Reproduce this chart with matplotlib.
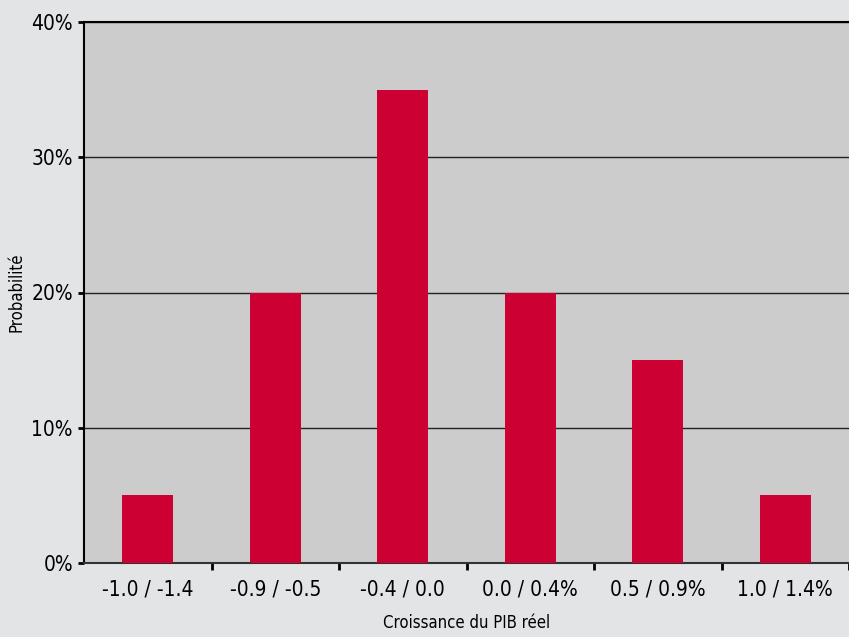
import numpy as np
import matplotlib
matplotlib.use("Agg")
import matplotlib.pyplot as plt

# Data.
categories = ["-1.0 / -1.4", "-0.9 / -0.5", "-0.4 / 0.0", "0.0 / 0.4%", "0.5 / 0.9%", "1.0 / 1.4%"]
probabilities = [5, 20, 35, 20, 15, 5]
yticks = [0, 10, 20, 30, 40]

# The original uses a condensed face.
plt.rcParams['font.family'] = ['DejaVu Sans']
plt.rcParams['font.stretch'] = 'condensed'

fig = plt.figure(figsize=(8.49, 6.37), dpi=100, facecolor='#e3e4e6')
ax = fig.add_axes([84 / 849, 1 - 563 / 637, 1 - 84 / 849, (563 - 22) / 637])
ax.set_facecolor('#cccccc')

x = np.arange(len(categories))
ax.bar(x, probabilities, width=0.4, color='#cc0033', zorder=3)

ax.set_xlim(-0.5, len(categories) - 0.5)
ax.set_ylim(0, 40)

# Gridlines on the inner ticks.
ax.set_yticks(yticks)
ax.set_yticklabels([f"{v}%" for v in yticks])
for v in yticks[1:]:
    ax.axhline(v, color='#222222', lw=1.0, zorder=2)

# Category labels centred, tick marks at the boundaries.
ax.set_xticks(x)
ax.set_xticklabels(categories)
ax.tick_params(axis='x', length=0, labelsize=15, pad=12)
ax.set_xticks(np.arange(len(categories)) + 0.5, minor=True)
ax.tick_params(axis='x', which='minor', length=5, width=2, direction='out')
ax.tick_params(axis='y', length=4, width=2, labelsize=15, pad=4)

ax.spines['right'].set_visible(False)
ax.spines['left'].set_linewidth(1.5)
ax.spines['top'].set_linewidth(1.5)
ax.spines['bottom'].set_linewidth(1.5)
ax.spines['bottom'].set_color('#333333')

ax.set_xlabel("Croissance du PIB réel", fontsize=12, labelpad=10)
ax.set_ylabel("Probabilité", fontsize=12)
ax.yaxis.set_label_coords(-0.077, 0.5)

fig.savefig("out.png", dpi=100, facecolor=fig.get_facecolor())
